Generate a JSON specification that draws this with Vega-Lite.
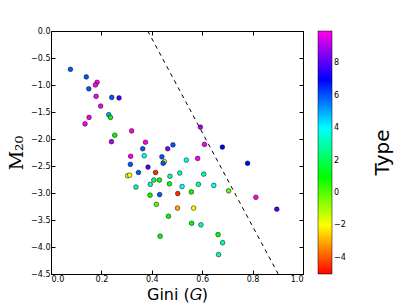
{
  "$schema": "https://vega.github.io/schema/vega-lite/v6.json",
  "width": 252,
  "height": 243,
  "autosize": "none",
  "padding": {"left": 51, "top": 31, "right": 104, "bottom": 31},
  "background": "white",
  "title": {"text": "Type", "orient": "right", "angle": -90, "anchor": "middle", "baseline": "middle", "offset": 17, "font": "DejaVu Sans", "fontSize": 20, "fontWeight": "normal", "color": "black"},
  "config": {
    "view": {"stroke": "black", "strokeWidth": 1},
    "axis": {
      "domainColor": "black",
      "tickColor": "black",
      "labelColor": "black",
      "labelFont": "DejaVu Sans",
      "labelFontSize": 8,
      "grid": false,
      "tickSize": -4
    }
  },
  "datasets": {
    "galaxies": [
      {"gini": 0.077, "m20": -0.71, "type": 6},
      {"gini": 0.14, "m20": -0.85, "type": 6},
      {"gini": 0.183, "m20": -0.95, "type": 10},
      {"gini": 0.176, "m20": -1.0, "type": 10},
      {"gini": 0.15, "m20": -1.07, "type": 6},
      {"gini": 0.179, "m20": -1.21, "type": 10},
      {"gini": 0.241, "m20": -1.23, "type": 6},
      {"gini": 0.27, "m20": -1.24, "type": 8},
      {"gini": 0.197, "m20": -1.39, "type": 10},
      {"gini": 0.229, "m20": -1.55, "type": 5},
      {"gini": 0.236, "m20": -1.6, "type": 1},
      {"gini": 0.151, "m20": -1.6, "type": 10},
      {"gini": 0.135, "m20": -1.72, "type": 10},
      {"gini": 0.32, "m20": -1.85, "type": 10},
      {"gini": 0.253, "m20": -1.93, "type": 1},
      {"gini": 0.375, "m20": -2.06, "type": 10},
      {"gini": 0.24, "m20": -2.05, "type": 9},
      {"gini": 0.364, "m20": -2.18, "type": 6},
      {"gini": 0.463, "m20": -2.18, "type": 8.5},
      {"gini": 0.484, "m20": -2.11, "type": 6},
      {"gini": 0.316, "m20": -2.32, "type": 10},
      {"gini": 0.37, "m20": -2.31, "type": 4},
      {"gini": 0.44, "m20": -2.33, "type": 6},
      {"gini": 0.593, "m20": -1.78, "type": 9},
      {"gini": 0.609, "m20": -2.1, "type": 10},
      {"gini": 0.68, "m20": -2.15, "type": 7},
      {"gini": 0.537, "m20": -2.39, "type": 4},
      {"gini": 0.582, "m20": -2.36, "type": 10},
      {"gini": 0.78, "m20": -2.45, "type": 7},
      {"gini": 0.315, "m20": -2.47, "type": 6},
      {"gini": 0.45, "m20": -2.42, "type": -1.5},
      {"gini": 0.445, "m20": -2.45, "type": 6},
      {"gini": 0.385, "m20": -2.52, "type": 8},
      {"gini": 0.415, "m20": -2.62, "type": -4.5},
      {"gini": 0.347, "m20": -2.62, "type": 6},
      {"gini": 0.511, "m20": -2.63, "type": 3},
      {"gini": 0.606, "m20": -2.65, "type": 3},
      {"gini": 0.304, "m20": -2.68, "type": -2},
      {"gini": 0.312, "m20": -2.67, "type": -2},
      {"gini": 0.472, "m20": -2.69, "type": 3},
      {"gini": 0.408, "m20": -2.76, "type": 2.5},
      {"gini": 0.43, "m20": -2.76, "type": 1},
      {"gini": 0.47, "m20": -2.83, "type": 1},
      {"gini": 0.394, "m20": -2.84, "type": 3},
      {"gini": 0.337, "m20": -2.89, "type": 3},
      {"gini": 0.52, "m20": -2.88, "type": 4},
      {"gini": 0.585, "m20": -2.84, "type": 3},
      {"gini": 0.646, "m20": -2.86, "type": 4},
      {"gini": 0.557, "m20": -2.98, "type": 1},
      {"gini": 0.705, "m20": -2.96, "type": 0},
      {"gini": 0.393, "m20": -3.04, "type": 1},
      {"gini": 0.431, "m20": -3.03, "type": 6},
      {"gini": 0.503, "m20": -3.01, "type": -4.5},
      {"gini": 0.418, "m20": -3.21, "type": 0},
      {"gini": 0.502, "m20": -3.28, "type": -3},
      {"gini": 0.566, "m20": -3.28, "type": -2},
      {"gini": 0.466, "m20": -3.43, "type": 1},
      {"gini": 0.558, "m20": -3.56, "type": 1},
      {"gini": 0.595, "m20": -3.59, "type": 3},
      {"gini": 0.433, "m20": -3.8, "type": 1},
      {"gini": 0.663, "m20": -3.77, "type": 1},
      {"gini": 0.681, "m20": -3.92, "type": 3},
      {"gini": 0.665, "m20": -4.14, "type": 3},
      {"gini": 0.813, "m20": -3.08, "type": 10},
      {"gini": 0.896, "m20": -3.3, "type": 8}
    ],
    "line": [
      {"gini": 0.384, "m20": 0},
      {"gini": 0.9015, "m20": -4.5}
    ]
  },
  "layer": [
    {
      "data": {"name": "line"},
      "mark": {"type": "line", "color": "black", "strokeDash": [4, 4], "strokeWidth": 1, "clip": true},
      "encoding": {
        "x": {
          "field": "gini", "type": "quantitative",
          "scale": {"domain": [0, 1], "nice": false, "zero": false},
          "axis": {"orient": "bottom", "values": [0, 0.2, 0.4, 0.6, 0.8, 1.0], "format": ".1f",
                   "title": "Gini (𝐺)", "titleFont": "DejaVu Sans", "titleFontSize": 16, "titleFontWeight": "normal", "titleColor": "black", "titlePadding": 3, "labelPadding": 5}
        },
        "y": {
          "field": "m20", "type": "quantitative",
          "scale": {"domain": [-4.5, 0], "nice": false, "zero": false},
          "axis": {"orient": "left", "values": [0, -0.5, -1, -1.5, -2, -2.5, -3, -3.5, -4, -4.5], "format": ".1f",
                   "title": "M₂₀", "titleFont": "DejaVu Serif", "titleFontSize": 19, "titleFontWeight": "normal", "titleColor": "black", "titlePadding": 4, "labelPadding": 5}
        }
      }
    },
    {
      "data": {"name": "galaxies"},
      "mark": {"type": "circle", "size": 22, "stroke": "black", "strokeWidth": 0.5, "opacity": 1},
      "encoding": {
        "x": {
          "field": "gini", "type": "quantitative",
          "axis": {"orient": "top", "values": [0, 0.2, 0.4, 0.6, 0.8, 1.0], "labels": false, "title": null}
        },
        "y": {
          "field": "m20", "type": "quantitative",
          "axis": {"orient": "right", "values": [0, -0.5, -1, -1.5, -2, -2.5, -3, -3.5, -4, -4.5], "labels": false, "title": null}
        },
        "color": {
          "field": "type", "type": "quantitative",
          "scale": {"domain": [-5, -2, 1, 4, 7, 10], "range": ["#ff0000", "#ffff00", "#00ff00", "#00ffff", "#0000ff", "#ff00e8"], "interpolate": "rgb"},
          "legend": {
            "orient": "none", "legendX": 267, "legendY": 0,
            "direction": "vertical",
            "gradientLength": 243, "gradientThickness": 14,
            "gradientStrokeColor": "black", "gradientStrokeWidth": 0.5,
            "values": [-4, -2, 0, 2, 4, 6, 8],
            "labelFont": "DejaVu Sans", "labelFontSize": 8, "labelColor": "black",
            "title": null
          }
        }
      }
    }
  ],
  "resolve": {"axis": {"x": "independent", "y": "independent"}}
}
